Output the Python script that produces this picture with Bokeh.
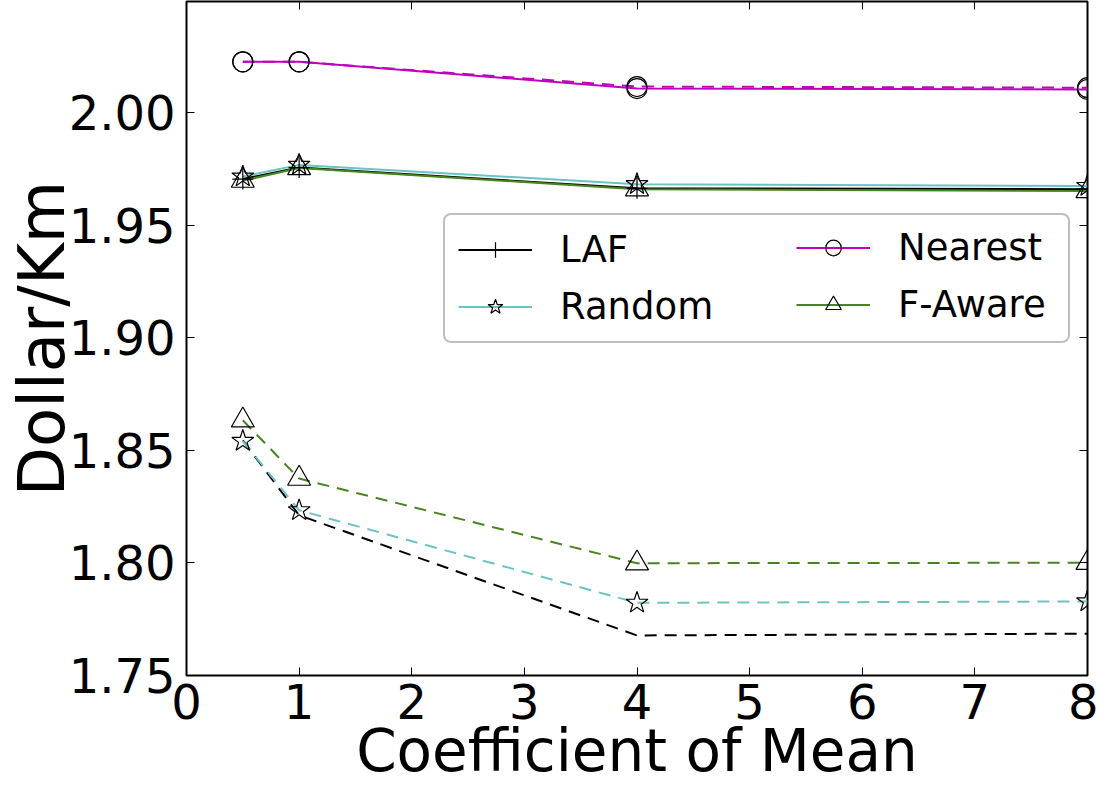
from bokeh.plotting import figure
from bokeh.models import (Range1d, LinearAxis, FixedTicker, NumeralTickFormatter,
                          Legend, LegendItem, CustomJSTickFormatter)
from bokeh.embed import file_html
from bokeh.resources import INLINE

# ---- data ----
coef = [0.5, 1, 4, 8]
# solid-line scenario
laf_solid = [1.9706, 1.9757, 1.9665, 1.9661]
nearest_solid = [2.0227, 2.0227, 2.0108, 2.0104]
random_solid = [1.9717, 1.9769, 1.9683, 1.9675]
faware_solid = [1.9699, 1.9755, 1.9661, 1.9653]
# dashed-line scenario
laf_dashed = [1.8545, 1.8212, 1.7678, 1.7686]
nearest_dashed = [2.0227, 2.0227, 2.0117, 2.0112]
random_dashed = [1.8542, 1.8234, 1.7823, 1.7829]
faware_dashed = [1.8634, 1.8375, 1.7999, 1.8001]

x_ticks = [0, 1, 2, 3, 4, 5, 6, 7, 8]
y_ticks = [1.75, 1.80, 1.85, 1.90, 1.95, 2.00]
x_title = "Coefficient of Mean"
y_title = "Dollar/Km"

FONT = "DejaVu Sans"
C_LAF = "#000000"
C_NEAR = "#bf00bf"
C_RAND = "#6cc3c3"
C_FAW = "#4a8420"

p = figure(width=1098, height=788, output_backend="svg", toolbar_location=None,
           x_range=Range1d(0, 8), y_range=Range1d(1.75, 2.0495),
           min_border_left=186, min_border_right=11, min_border_top=1,
           min_border_bottom=113)
p.styles = {"position": "absolute", "left": "0px", "top": "0px"}
p.xgrid.visible = False
p.ygrid.visible = False
p.background_fill_color = "white"
p.border_fill_color = "white"
p.outline_line_color = "black"
p.outline_line_width = 2

def style_axis(ax, labels=True):
    ax.axis_line_color = None
    ax.major_tick_in = 8
    ax.major_tick_out = 0
    ax.minor_tick_in = 0
    ax.minor_tick_out = 0
    ax.major_tick_line_color = "black"
    ax.major_tick_line_width = 1
    if labels:
        ax.major_label_text_font = FONT
        ax.major_label_text_font_size = "48px"
        ax.major_label_text_color = "black"
        ax.axis_label_text_font = FONT
        ax.axis_label_text_font_style = "normal"
        ax.axis_label_text_color = "black"
    else:
        ax.formatter = CustomJSTickFormatter(code="return ''")
        ax.major_label_text_font_size = "1px"
        ax.major_label_standoff = 0
        ax.axis_label_standoff = 0

xa = p.xaxis[0]
xa.ticker = FixedTicker(ticks=x_ticks)
style_axis(xa)
xa.major_label_standoff = 8
xa.axis_label = x_title
xa.axis_label_text_font_size = "58px"
xa.axis_label_standoff = -5

ya = p.yaxis[0]
ya.ticker = FixedTicker(ticks=y_ticks)
ya.formatter = NumeralTickFormatter(format="0.00")
style_axis(ya)
ya.major_label_standoff = 11
ya.axis_label = y_title
ya.axis_label_text_font_size = "64px"
ya.axis_label_standoff = -13

top = LinearAxis(ticker=FixedTicker(ticks=x_ticks))
style_axis(top, labels=False)
p.add_layout(top, "above")
right = LinearAxis(ticker=FixedTicker(ticks=y_ticks))
style_axis(right, labels=False)
p.add_layout(right, "right")

MK = dict(line_color="black", line_width=1.2, fill_color=None)

# dashed scenario
p.line(coef, laf_dashed, line_color=C_LAF, line_width=2, line_dash="12 8")
p.line(coef, nearest_dashed, line_color=C_NEAR, line_width=2, line_dash="12 8")
p.line(coef, random_dashed, line_color=C_RAND, line_width=2, line_dash="12 8")
p.line(coef, faware_dashed, line_color=C_FAW, line_width=2, line_dash="12 8")
p.scatter(coef, nearest_dashed, marker="circle", size=20, **MK)
p.scatter(coef, random_dashed, marker="star", size=23, **MK)
p.scatter(coef, faware_dashed, marker="triangle", size=23, **MK)

# solid scenario
l_laf = p.line(coef, laf_solid, line_color=C_LAF, line_width=2)
l_near = p.line(coef, nearest_solid, line_color=C_NEAR, line_width=2)
l_rand = p.line(coef, random_solid, line_color=C_RAND, line_width=2)
l_faw = p.line(coef, faware_solid, line_color=C_FAW, line_width=2)
m_laf = p.scatter(coef, laf_solid, marker="cross", size=21, **MK)
m_near = p.scatter(coef, nearest_solid, marker="circle", size=20, **MK)
m_rand = p.scatter(coef, random_solid, marker="star", size=23, **MK)
m_faw = p.scatter(coef, faware_solid, marker="triangle", size=23, **MK)

def make_legend(items, loc, boxed, label_width):
    lg = Legend(items=items, location=loc, orientation="vertical")
    lg.margin = 0
    lg.padding = 13
    lg.spacing = 14
    lg.glyph_width = 74
    lg.glyph_height = 39
    lg.label_height = 39
    lg.label_width = label_width
    lg.label_standoff = 28
    lg.label_text_font = FONT
    lg.label_text_font_size = "37px"
    lg.label_text_color = "black"
    lg.label_text_baseline = "middle"
    if boxed:
        lg.border_line_color = "#808080"
        lg.border_line_width = 2
        lg.background_fill_color = "white"
        lg.background_fill_alpha = 1.0
        if "border_radius" in Legend.properties():
            lg.border_radius = 8
    else:
        lg.border_line_color = None
        lg.background_fill_alpha = 0.0
    return lg

leg1 = make_legend([LegendItem(label="LAF", renderers=[l_laf, m_laf]),
                    LegendItem(label="Random", renderers=[l_rand, m_rand])],
                   (257, 332), True, 495)
leg2 = make_legend([LegendItem(label="Nearest", renderers=[l_near, m_near]),
                    LegendItem(label="F-Aware", renderers=[l_faw, m_faw])],
                   (610, 349), False, 150)
p.add_layout(leg1, "center")
p.add_layout(leg2, "center")

open("out.html", "w").write(file_html(p, INLINE))
